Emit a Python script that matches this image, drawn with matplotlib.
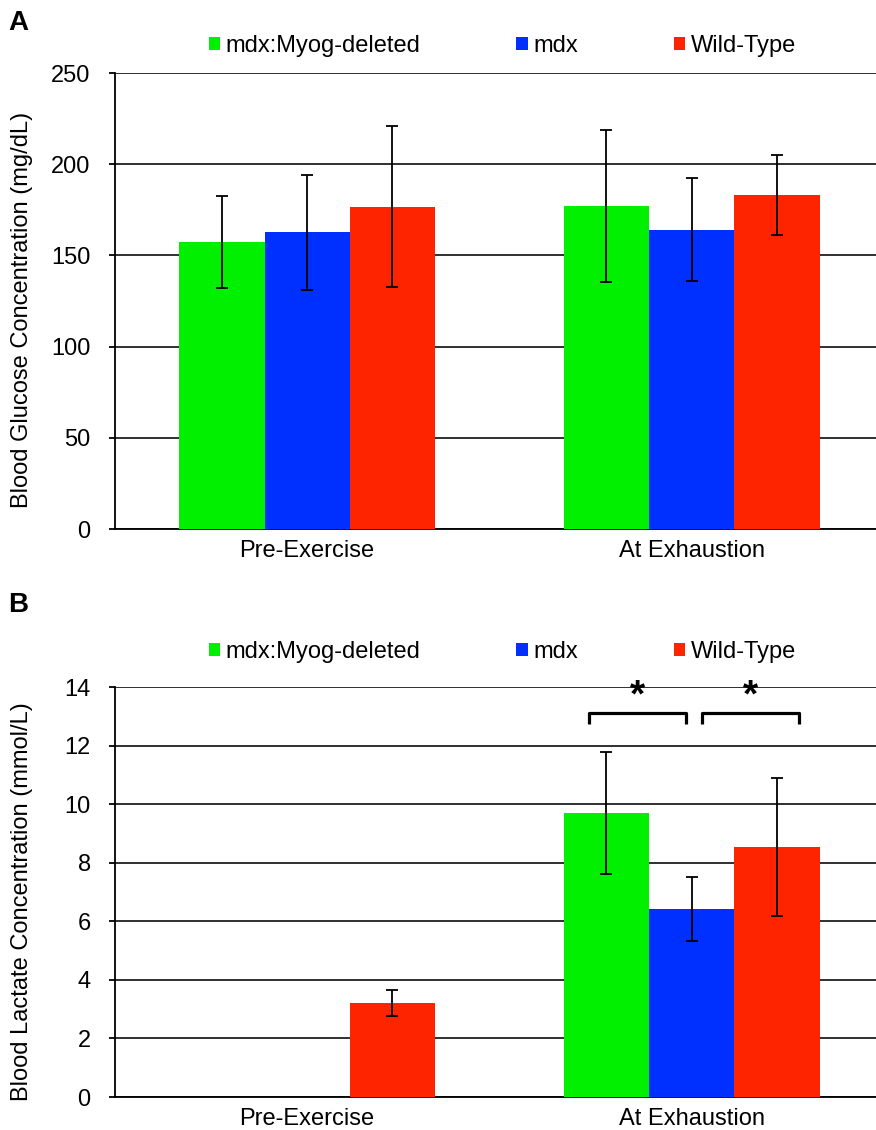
import matplotlib.pyplot as plt
from matplotlib.patches import Patch
import numpy as np

plt.rcParams['font.family'] = ['Liberation Sans', 'DejaVu Sans']

# data
groups = ['Pre-Exercise', 'At Exhaustion']
series = ['mdx:Myog-deleted', 'mdx', 'Wild-Type']
colors = ['#00F000', '#0030FF', '#FF2400']

# A - blood glucose (mg/dL)
glucose_mean = [[157.5, 176.9], [162.8, 164.1], [176.8, 183.1]]
glucose_err = [[25.2, 41.6], [31.5, 28.3], [44.2, 21.8]]

# B - blood lactate (mmol/L); only wild-type measured pre-exercise
lactate_mean = [[np.nan, 9.70], [np.nan, 6.42], [3.20, 8.53]]
lactate_err = [[np.nan, 2.07], [np.nan, 1.10], [0.45, 2.35]]

# significance brackets (x from, x to) in B
sig_pairs = [(0.733, 0.986), (1.027, 1.280)]
sig_y = 13.1

fig = plt.figure(figsize=(8.76, 11.3), dpi=100)
W, H = 876, 1130
axA = fig.add_axes([115 / W, 1 - 529 / H, (W - 115) / W, 456 / H])
axB = fig.add_axes([115 / W, 1 - 1097 / H, (W - 115) / W, 410 / H])

bw = 0.222
x = np.arange(len(groups))
fs = 17


def draw(ax, means, errs, ymax, ystep, ylabel, ly):
    for i in range(len(series)):
        ax.bar(x + (i - 1) * bw, means[i], width=bw, color=colors[i],
               zorder=3)
        ax.errorbar(x + (i - 1) * bw, means[i], yerr=errs[i], fmt='none',
                    ecolor='black', elinewidth=1.3, capsize=4,
                    capthick=1.3, zorder=4)
    ax.set_xlim(-0.5, 1.48)
    ax.set_ylim(0, ymax)
    ax.set_yticks(np.arange(0, ymax + 0.1, ystep))
    ax.yaxis.grid(True, color='#202020', linewidth=1.3, zorder=0)
    ax.set_axisbelow(True)
    ax.set_xticks(x)
    ax.set_xticklabels(groups)
    ax.tick_params(axis='x', length=0, pad=8, labelsize=fs)
    ax.tick_params(axis='y', length=4.5, width=1.3, pad=13, labelsize=fs)
    for s in ['top', 'right']:
        ax.spines[s].set_visible(False)
    for s in ['left', 'bottom']:
        ax.spines[s].set_linewidth(1.3)
    ax.set_ylabel(ylabel, fontsize=fs)
    ax.yaxis.set_label_coords(-0.108, ly)


draw(axA, glucose_mean, glucose_err, 250, 50,
     'Blood Glucose Concentration (mg/dL)', 0.48)
draw(axB, lactate_mean, lactate_err, 14, 2,
     'Blood Lactate Concentration (mmol/L)', 0.476)

# brackets with stars
for x0, x1 in sig_pairs:
    axB.plot([x0, x0, x1, x1], [sig_y - 0.35, sig_y, sig_y, sig_y - 0.35],
             color='black', linewidth=2.3, solid_joinstyle='round',
             solid_capstyle='butt', zorder=5, clip_on=False)
    axB.text((x0 + x1) / 2, sig_y - 0.05, '*', ha='center', va='bottom',
             fontsize=28, fontweight='bold')

handles = [Patch(facecolor=c, edgecolor='none') for c in colors]
for yc in [1 - 46 / H, 1 - 652 / H]:
    fig.legend(handles, series, loc='center', bbox_to_anchor=(0.5736, yc),
               ncol=3, frameon=False, fontsize=fs, handlelength=0.47,
               handleheight=0.47, handletextpad=0.25, columnspacing=4.05,
               borderpad=0)

fig.text(8 / W, 1 - 23 / H, 'A', fontsize=20, fontweight='bold', va='center')
fig.text(8 / W, 1 - 605 / H, 'B', fontsize=20, fontweight='bold', va='center')

fig.savefig('out.png', dpi=100)
